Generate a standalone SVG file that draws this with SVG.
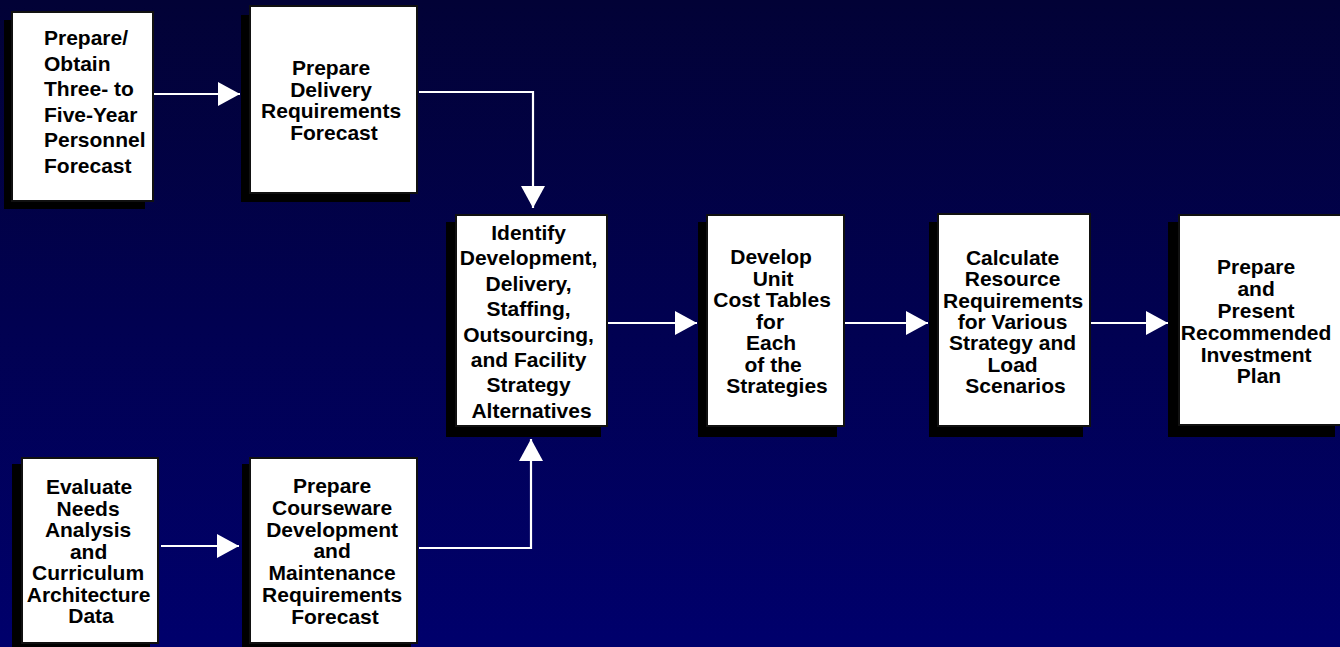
<svg xmlns="http://www.w3.org/2000/svg" width="1340" height="647" viewBox="0 0 1340 647">
  <defs>
    <linearGradient id="bg" x1="0" y1="0" x2="0" y2="1">
      <stop offset="0" stop-color="#020236"/>
      <stop offset="1" stop-color="#00006c"/>
    </linearGradient>
    <marker id="head" markerUnits="userSpaceOnUse" markerWidth="22" markerHeight="24" refX="22" refY="12" orient="auto" viewBox="0 0 22 24">
      <path d="M0,0 L22,12 L0,24 Z" fill="#ffffff"/>
    </marker>
    <style>
      .shadow { fill: #000000; }
      .box { fill: #ffffff; stroke: #111111; stroke-width: 2; }
      .lbl { font-family: "Liberation Sans", Arial, Helvetica, sans-serif; font-weight: bold; font-size: 21px; fill: #000000; text-anchor: middle; }
      .left { text-anchor: start; }
      .conn { fill: none; stroke: #ffffff; stroke-width: 2.2; marker-end: url(#head); }
    </style>
  </defs>

  <rect x="0" y="0" width="1340" height="647" fill="url(#bg)"/>

  <!-- connectors -->
  <g id="connectors">
    <path class="conn" d="M154,94 H240"/>
    <path class="conn" d="M419,92 H533 V208"/>
    <path class="conn" d="M161,546 H239"/>
    <path class="conn" d="M419,548 H531 V439"/>
    <path class="conn" d="M608,323 H697"/>
    <path class="conn" d="M845,323 H928"/>
    <path class="conn" d="M1091,323 H1168"/>
  </g>

  <!-- personnel forecast -->
  <g id="personnel-forecast">
    <rect class="shadow" x="4" y="20" width="141" height="189"/>
    <rect class="box" x="12" y="12" width="141" height="189"/>
    <text class="lbl left" x="44">
      <tspan x="44" y="45">Prepare/</tspan>
      <tspan x="44" y="70.6">Obtain</tspan>
      <tspan x="44" y="96.2">Three- to</tspan>
      <tspan x="44" y="121.8">Five-Year</tspan>
      <tspan x="44" y="147.4">Personnel</tspan>
      <tspan x="44" y="173">Forecast</tspan>
    </text>
  </g>

  <!-- delivery requirements forecast -->
  <g id="delivery-forecast">
    <rect class="shadow" x="241" y="15" width="169" height="187"/>
    <rect class="box" x="250" y="6" width="167" height="187"/>
    <text class="lbl">
      <tspan x="334" y="75">Prepare</tspan>
      <tspan x="334" y="96.5">Delivery</tspan>
      <tspan x="334" y="118">Requirements</tspan>
      <tspan x="334" y="139.5">Forecast</tspan>
    </text>
  </g>

  <!-- strategy alternatives -->
  <g id="strategy-alternatives">
    <rect class="shadow" x="446" y="222" width="155" height="215"/>
    <rect class="box" x="456" y="215" width="151" height="211"/>
    <text class="lbl">
      <tspan x="531.5" y="240">Identify</tspan>
      <tspan x="531.5" y="265.4">Development,</tspan>
      <tspan x="531.5" y="290.8">Delivery,</tspan>
      <tspan x="531.5" y="316.2">Staffing,</tspan>
      <tspan x="531.5" y="341.6">Outsourcing,</tspan>
      <tspan x="531.5" y="367">and Facility</tspan>
      <tspan x="531.5" y="392.4">Strategy</tspan>
      <tspan x="531.5" y="417.8">Alternatives</tspan>
    </text>
  </g>

  <!-- unit cost tables -->
  <g id="unit-cost-tables">
    <rect class="shadow" x="698" y="222" width="139" height="215"/>
    <rect class="box" x="707" y="215" width="137" height="211"/>
    <text class="lbl">
      <tspan x="774" y="264">Develop</tspan>
      <tspan x="776" y="285.5">Unit</tspan>
      <tspan x="775" y="307">Cost Tables</tspan>
      <tspan x="773" y="328.5">for</tspan>
      <tspan x="774" y="350">Each</tspan>
      <tspan x="776" y="371.5">of the</tspan>
      <tspan x="777" y="393">Strategies</tspan>
    </text>
  </g>

  <!-- resource requirements -->
  <g id="resource-requirements">
    <rect class="shadow" x="929" y="222" width="154" height="215"/>
    <rect class="box" x="938" y="214" width="152" height="212"/>
    <text class="lbl">
      <tspan x="1015.5" y="265">Calculate</tspan>
      <tspan x="1015.5" y="286.3">Resource</tspan>
      <tspan x="1016" y="307.7">Requirements</tspan>
      <tspan x="1015.5" y="329">for Various</tspan>
      <tspan x="1015.5" y="350.3">Strategy and</tspan>
      <tspan x="1015.5" y="371.7">Load</tspan>
      <tspan x="1015.5" y="393">Scenarios</tspan>
    </text>
  </g>

  <!-- investment plan -->
  <g id="investment-plan">
    <rect class="shadow" x="1168" y="222" width="167" height="215"/>
    <rect class="box" x="1179" y="215" width="163" height="210"/>
    <text class="lbl">
      <tspan x="1259" y="274.3">Prepare</tspan>
      <tspan x="1259" y="296.1">and</tspan>
      <tspan x="1259" y="317.9">Present</tspan>
      <tspan x="1259" y="339.7">Recommended</tspan>
      <tspan x="1259" y="361.5">Investment</tspan>
      <tspan x="1259" y="383.3">Plan</tspan>
    </text>
  </g>

  <!-- needs analysis data -->
  <g id="needs-analysis">
    <rect class="shadow" x="12" y="464" width="138" height="190"/>
    <rect class="box" x="22" y="458" width="136" height="185"/>
    <text class="lbl">
      <tspan x="92" y="494.3">Evaluate</tspan>
      <tspan x="91" y="515.8">Needs</tspan>
      <tspan x="91" y="537.3">Analysis</tspan>
      <tspan x="91.5" y="558.8">and</tspan>
      <tspan x="91" y="580.3">Curriculum</tspan>
      <tspan x="91.5" y="601.8">Architecture</tspan>
      <tspan x="91" y="623.3">Data</tspan>
    </text>
  </g>

  <!-- courseware forecast -->
  <g id="courseware-forecast">
    <rect class="shadow" x="242" y="464" width="169" height="190"/>
    <rect class="box" x="250" y="458" width="167" height="185"/>
    <text class="lbl">
      <tspan x="335" y="493.3">Prepare</tspan>
      <tspan x="335" y="515">Courseware</tspan>
      <tspan x="335" y="536.7">Development</tspan>
      <tspan x="335" y="558.4">and</tspan>
      <tspan x="335" y="580.1">Maintenance</tspan>
      <tspan x="335" y="601.8">Requirements</tspan>
      <tspan x="335" y="623.5">Forecast</tspan>
    </text>
  </g>
</svg>
